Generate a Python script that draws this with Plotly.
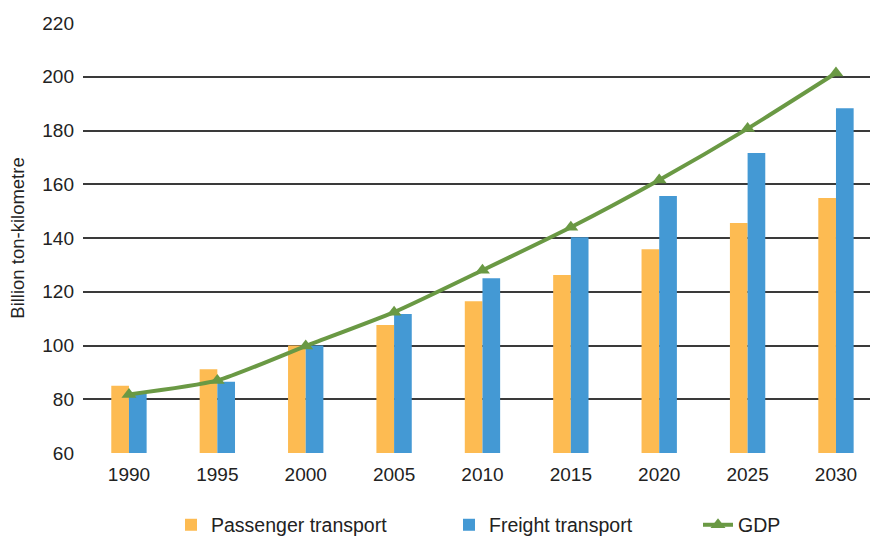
import plotly.graph_objects as go

years = ["1990", "1995", "2000", "2005", "2010", "2015", "2020", "2025", "2030"]
passenger = [85.0, 91.2, 100.0, 107.6, 116.5, 126.2, 135.8, 145.6, 154.9]
freight = [82.3, 86.5, 100.0, 111.7, 125.0, 140.3, 155.6, 171.6, 188.3]
gdp = [81.8, 87.0, 99.8, 112.4, 128.0, 144.0, 161.6, 180.7, 201.4]
y_ticks = [60, 80, 100, 120, 140, 160, 180, 200, 220]

FONT = "Liberation Sans, Arial, Helvetica, sans-serif"
TXT = "#222222"

fig = go.Figure()
fig.add_trace(go.Bar(x=years, y=passenger, name="Passenger transport",
                     marker=dict(color="#FDBB52", line=dict(width=0)), legend="legend"))
fig.add_trace(go.Bar(x=years, y=freight, name="Freight transport",
                     marker=dict(color="#4499D4", line=dict(width=0)), legend="legend2"))
fig.add_trace(go.Scatter(x=years, y=gdp, name="GDP", mode="lines+markers",
                         line=dict(color="#6A9944", width=4, shape="spline", smoothing=0.6),
                         marker=dict(symbol="triangle-up", size=13, color="#6A9944"),
                         legend="legend3"))

leg_common = dict(orientation="h", xref="container", yref="container",
                  yanchor="middle", xanchor="left", y=0.024,
                  font=dict(family=FONT, size=19.5, color=TXT),
                  bgcolor="rgba(0,0,0,0)")

fig.update_layout(
    width=872, height=538,
    margin=dict(l=83, r=2, t=23, b=85),
    paper_bgcolor="white", plot_bgcolor="white",
    barmode="group", bargap=0.6, bargroupgap=0,
    font=dict(family=FONT, size=19, color=TXT),
    showlegend=True,
    legend=dict(x=171/872, **leg_common),
    legend2=dict(x=449/872, **leg_common),
    legend3=dict(x=698/872, **leg_common),
    xaxis=dict(range=[-0.52, 8.385], showgrid=False, showline=False, ticks="",
               tickfont=dict(family=FONT, size=19, color=TXT), ticklabelstandoff=8,
               fixedrange=True),
    yaxis=dict(range=[60, 220], tickvals=y_ticks, showgrid=True, gridcolor="#3a3a3a",
               gridwidth=1.5, zeroline=False, showline=False, ticks="",
               tickfont=dict(family=FONT, size=19, color=TXT), ticklabelstandoff=8,
               title=dict(text="Billion ton-kilometre", standoff=12,
                          font=dict(family=FONT, size=18.5, color=TXT)),
               automargin=False),
)

fig.write_html("out.html")
